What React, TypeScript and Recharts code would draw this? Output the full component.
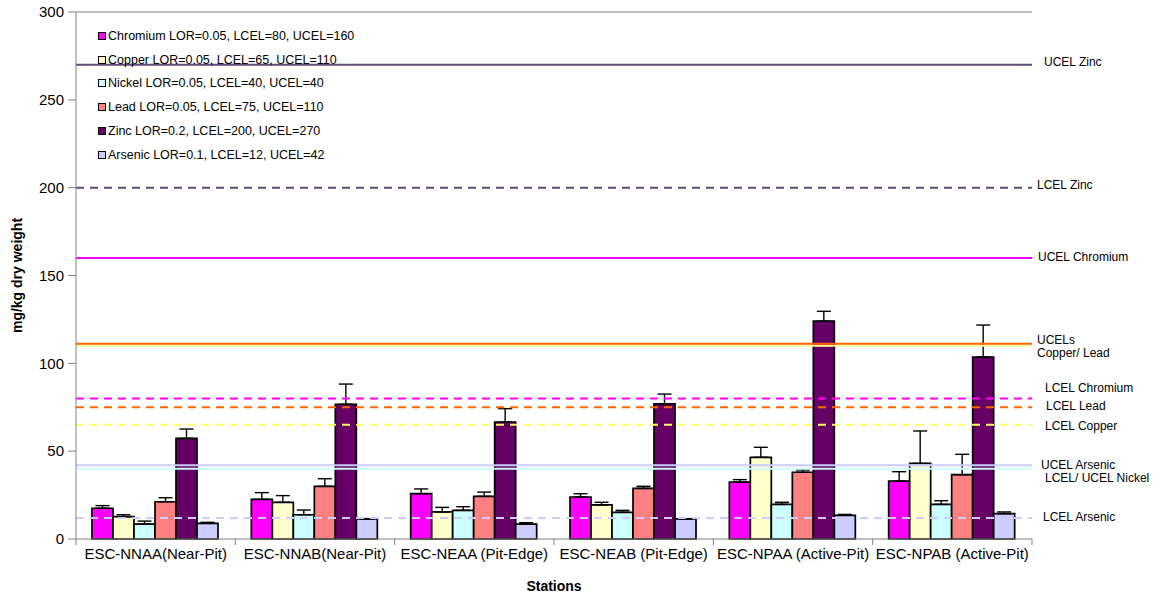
import React from "react";
import {
  Bar,
  BarChart,
  ErrorBar,
  ReferenceLine,
  XAxis,
  YAxis,
} from "recharts";

const stations = [
  "ESC-NNAA(Near-Pit)",
  "ESC-NNAB(Near-Pit)",
  "ESC-NEAA (Pit-Edge)",
  "ESC-NEAB (Pit-Edge)",
  "ESC-NPAA (Active-Pit)",
  "ESC-NPAB (Active-Pit)",
];

const chromium = [17.5, 22.6, 25.8, 23.9, 32.4, 33.0];
const chromiumErr = [1.5, 3.8, 2.7, 1.9, 1.4, 5.3];
const copper = [12.7, 20.9, 15.4, 19.4, 46.5, 43.0];
const copperErr = [1.1, 3.8, 2.6, 1.5, 5.7, 18.5];
const nickel = [8.5, 13.8, 16.3, 15.2, 19.7, 19.7];
const nickelErr = [1.7, 2.7, 2.1, 1.1, 1.2, 2.1];
const lead = [21.2, 30.0, 24.3, 28.8, 38.0, 36.6];
const leadErr = [2.3, 4.3, 2.4, 1.2, 1.3, 11.6];
const zinc = [57.3, 76.7, 66.6, 77.0, 124.0, 103.6];
const zincErr = [5.3, 11.5, 7.6, 5.5, 5.6, 18.2];
const arsenic = [8.9, 11.4, 8.5, 11.4, 13.5, 14.4];
const arsenicErr = [0.6, 0.2, 0.8, 0.2, 0.5, 1.0];

const yTicks = [0, 50, 100, 150, 200, 250, 300];

const series = [
  { key: "chromium", name: "Chromium LOR=0.05, LCEL=80, UCEL=160", color: "#FF00FF", values: chromium, err: chromiumErr },
  { key: "copper", name: "Copper LOR=0.05, LCEL=65, UCEL=110", color: "#FFFFCC", values: copper, err: copperErr },
  { key: "nickel", name: "Nickel LOR=0.05, LCEL=40, UCEL=40", color: "#CCFFFF", values: nickel, err: nickelErr },
  { key: "lead", name: "Lead LOR=0.05, LCEL=75, UCEL=110", color: "#FF8080", values: lead, err: leadErr },
  { key: "zinc", name: "Zinc LOR=0.2, LCEL=200, UCEL=270", color: "#660066", values: zinc, err: zincErr },
  { key: "arsenic", name: "Arsenic LOR=0.1, LCEL=12, UCEL=42", color: "#CCCCFF", values: arsenic, err: arsenicErr },
];

// threshold lines, label text drawn to the right of the plot
const thresholds = [
  { y: 270, color: "#604A7B", dashed: false, label: ["UCEL Zinc"], dx: 12, dy: -2 },
  { y: 200, color: "#604A7B", dashed: true, label: ["LCEL Zinc"], dx: 5, dy: -2 },
  { y: 160, color: "#FF00FF", dashed: false, label: ["UCEL Chromium"], dx: 6, dy: 0 },
  { y: 110, color: "#FFFF99", dashed: false, label: [], dx: 0, dy: 0 },
  { y: 111.2, color: "#FF6600", dashed: false, label: ["UCELs", "Copper/ Lead"], dx: 5, dy: -3 },
  { y: 80, color: "#FF00FF", dashed: true, label: ["LCEL Chromium"], dx: 13, dy: -9 },
  { y: 75, color: "#FF6600", dashed: true, label: ["LCEL Lead"], dx: 14, dy: 0 },
  { y: 65, color: "#FFFF66", dashed: true, label: ["LCEL Copper"], dx: 13, dy: 2 },
  { y: 40, color: "#CCFFFF", dashed: false, label: ["LCEL/ UCEL Nickel"], dx: 13, dy: 10 },
  { y: 42, color: "#CCCCFF", dashed: false, label: ["UCEL Arsenic"], dx: 9, dy: 1 },
  { y: 12, color: "#CCCCFF", dashed: true, label: ["LCEL Arsenic"], dx: 11, dy: 0 },
];

const data = stations.map((station, i) => {
  const row: Record<string, unknown> = { station };
  series.forEach((s) => {
    row[s.key] = s.values[i];
    row[s.key + "Err"] = [0, s.err[i]];
  });
  return row;
});

const FONT = "Arial, 'Liberation Sans', sans-serif";
const WIDTH = 1157;
const HEIGHT = 596;
const MARGIN = { top: 12, right: 125, bottom: 0, left: 0 };
const Y_WIDTH = 76;
const HALF_BAND = (WIDTH - MARGIN.right - Y_WIDTH) / stations.length / 2;

function StationTick(props: any) {
  const { x, y, payload, index } = props;
  const last = index === stations.length - 1;
  return (
    <g>
      <line x1={x - HALF_BAND} x2={x - HALF_BAND} y1={y} y2={y + 6} stroke="#808080" />
      {last ? (
        <line x1={x + HALF_BAND} x2={x + HALF_BAND} y1={y} y2={y + 6} stroke="#808080" />
      ) : null}
      <text x={x} y={y + 20} textAnchor="middle" fontSize={15} fontFamily={FONT} fill="#000">
        {payload.value}
      </text>
    </g>
  );
}

function ThresholdLabel({ viewBox, lines, dx, dy }: any) {
  if (!viewBox || !lines.length) return null;
  const x = viewBox.x + viewBox.width + dx;
  const y = viewBox.y + dy;
  return (
    <text x={x} y={y} fontSize={12} fontFamily={FONT} fill="#000" dominantBaseline="middle">
      {lines.map((line: string, i: number) => (
        <tspan key={line} x={x} dy={i === 0 ? 0 : 13}>
          {line}
        </tspan>
      ))}
    </text>
  );
}

function LegendBox() {
  return (
    <div
      style={{
        position: "absolute",
        left: 98,
        top: 24,
        fontFamily: FONT,
        fontSize: 12.5,
        color: "#000",
        pointerEvents: "none",
      }}
    >
      {series.map((s) => (
        <div key={s.key} style={{ display: "flex", alignItems: "center", height: 23.8 }}>
          <span
            style={{
              width: 6,
              height: 6,
              background: s.color,
              border: "1px solid #000",
              marginRight: 2,
              display: "inline-block",
            }}
          />
          <span>{s.name}</span>
        </div>
      ))}
    </div>
  );
}

export default function App() {
  return (
    <div style={{ position: "absolute", left: 0, top: 0, width: WIDTH, height: HEIGHT, background: "#fff" }}>
      <BarChart
        width={WIDTH}
        height={HEIGHT}
        data={data}
        margin={MARGIN}
        barCategoryGap={16}
        barGap={0}
      >
        <XAxis
          dataKey="station"
          height={57}
          stroke="#808080"
          tickLine={false}
          tickSize={0}
          tickMargin={0}
          interval={0}
          tick={<StationTick />}
          label={{
            content: ({ viewBox }: any) => (
              <text
                x={viewBox.x + viewBox.width / 2}
                y={591}
                textAnchor="middle"
                fontSize={14}
                fontWeight="bold"
                fontFamily={FONT}
              >
                Stations
              </text>
            ),
          }}
        />
        <YAxis
          domain={[0, 300]}
          ticks={yTicks}
          width={Y_WIDTH}
          stroke="#808080"
          tickSize={8}
          tickMargin={4}
          tick={{ fill: "#000", fontSize: 15, fontFamily: FONT }}
          label={{
            content: ({ viewBox }: any) => (
              <text
                x={18}
                y={viewBox.y + viewBox.height / 2}
                transform={`rotate(-90 18 ${viewBox.y + viewBox.height / 2})`}
                textAnchor="middle"
                dominantBaseline="middle"
                fontSize={14}
                fontWeight="bold"
                fontFamily={FONT}
              >
                mg/kg dry weight
              </text>
            ),
          }}
        />
        <YAxis
          yAxisId="border"
          orientation="right"
          domain={[0, 300]}
          width={0}
          tick={false}
          tickLine={false}
          stroke="#808080"
        />
        {series.map((s) => (
          <Bar
            key={s.key}
            dataKey={s.key}
            name={s.name}
            fill={s.color}
            stroke="#000"
            strokeWidth={1.7}
            isAnimationActive={false}
          >
            <ErrorBar
              dataKey={s.key + "Err"}
              direction="y"
              width={7}
              stroke="#000"
              strokeWidth={1.4}
              isAnimationActive={false}
            />
          </Bar>
        ))}
        <ReferenceLine y={300} stroke="#808080" />
        {thresholds.map((t) => (
          <ReferenceLine
            key={t.y}
            y={t.y}
            stroke={t.color}
            strokeWidth={2}
            strokeDasharray={t.dashed ? "8 6" : undefined}
            label={<ThresholdLabel lines={t.label} dx={t.dx} dy={t.dy} />}
          />
        ))}
      </BarChart>
      <LegendBox />
    </div>
  );
}
